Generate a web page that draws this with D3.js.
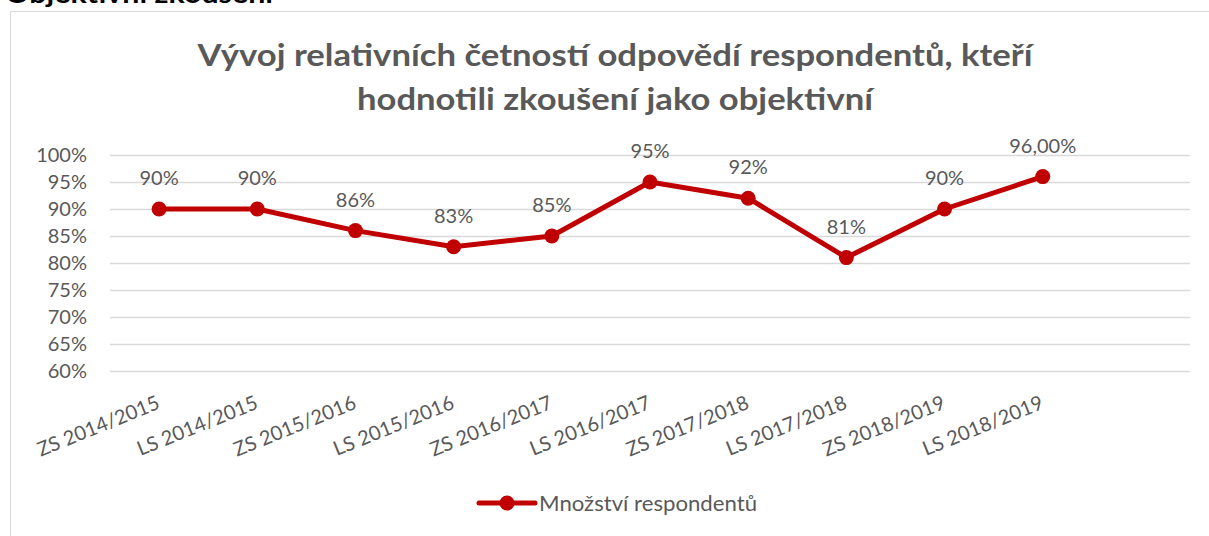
<!DOCTYPE html>
<html><head><meta charset="utf-8">
<script src="https://cdn.jsdelivr.net/npm/d3@7"></script>
<style>body{margin:0;background:#fff}svg{display:block}</style>
</head><body>
<svg id="c" width="1209" height="536"></svg>
<script>
const categories = ["ZS 2014/2015","LS 2014/2015","ZS 2015/2016","LS 2015/2016","ZS 2016/2017","LS 2016/2017","ZS 2017/2018","LS 2017/2018","ZS 2018/2019","LS 2018/2019"];
const values = [90, 90, 86, 83, 85, 95, 92, 81, 90, 96];
const valueLabels = ["90%","90%","86%","83%","85%","95%","92%","81%","90%","96,00%"];
const yTicks = [60,65,70,75,80,85,90,95,100];
const seriesName = "Množství respondentů";
const titleLines = ["Vývoj relativních četností odpovědí respondentů, kteří","hodnotili zkoušení jako objektivní"];
const heading = "Objektivní zkoušení";

(function(){
const svg = d3.select("#c");
const FONT = "Lato, 'Open Sans', sans-serif";
const gray = "#595959";
const red = "#C00000";
const titleWidths = [835, 516];

svg.append("text").attr("x",5).attr("y",2.5).attr("font-family",FONT).attr("font-weight","bold")
  .attr("font-size",26).attr("fill","#000").attr("textLength",268).attr("lengthAdjust","spacingAndGlyphs").text(heading);

svg.append("rect").attr("x",10.5).attr("y",11.5).attr("width",1230).attr("height",560)
  .attr("fill","#fff").attr("stroke","#d9d9d9").attr("stroke-width",1);

svg.append("g").selectAll("text").data(titleLines).join("text")
  .attr("x",615).attr("y",(d,i)=>66+i*44).attr("text-anchor","middle")
  .attr("font-family",FONT).attr("font-weight","bold").attr("font-size",31).attr("fill",gray)
  .attr("textLength",(d,i)=>titleWidths[i]).attr("lengthAdjust","spacingAndGlyphs")
  .text(d=>d);

const pL = 110, pR = 1190, pT = 155, pB = 371;
const step = (pR-pL)/11;
const x = d3.scaleBand().domain(categories).range([pL, pL+step*categories.length]);
const y = d3.scaleLinear().domain([60,100]).range([pB, pT]);

svg.append("g").attr("transform",`translate(${pL},0)`)
  .call(d3.axisLeft(y).tickValues(yTicks).tickSize(-(pR-pL)).tickFormat(d=>d+"%"))
  .call(g=>g.select(".domain").remove())
  .call(g=>g.selectAll(".tick line").attr("stroke","#d9d9d9").attr("stroke-width",1.5))
  .call(g=>g.selectAll(".tick text").attr("x",-23).attr("fill",gray).attr("font-size",20).attr("font-family",FONT));

svg.append("g").attr("transform",`translate(0,${pB})`)
  .call(d3.axisBottom(x).tickSize(0))
  .call(g=>g.select(".domain").remove())
  .call(g=>g.selectAll(".tick text")
    .attr("font-family",FONT).attr("font-size",20).attr("fill",gray)
    .attr("text-anchor","end").attr("y",0).attr("dy",0)
    .attr("transform","translate(2,37) rotate(-22)"));

const cx = d=>x(d)+x.bandwidth()/2;
const line = d3.line().x((d,i)=>cx(categories[i])).y(d=>y(d));
svg.append("path").datum(values).attr("d",line).attr("fill","none")
  .attr("stroke",red).attr("stroke-width",5).attr("stroke-linejoin","round");
svg.append("g").selectAll("circle").data(values).join("circle")
  .attr("cx",(d,i)=>cx(categories[i])).attr("cy",d=>y(d)).attr("r",7.5).attr("fill",red);
svg.append("g").selectAll("text").data(values).join("text")
  .attr("x",(d,i)=>cx(categories[i])).attr("y",d=>y(d)-24).attr("text-anchor","middle")
  .attr("font-family",FONT).attr("font-size",20).attr("fill",gray)
  .text((d,i)=>valueLabels[i]);

const lg = svg.append("g").attr("transform","translate(479,503)");
lg.append("line").attr("x1",0).attr("x2",56).attr("y1",0).attr("y2",0).attr("stroke",red).attr("stroke-width",5).attr("stroke-linecap","round");
lg.append("circle").attr("cx",28).attr("cy",0).attr("r",7.5).attr("fill",red);
lg.append("text").attr("x",60).attr("y",7.5).attr("font-family",FONT).attr("font-size",21).attr("fill",gray)
  .attr("textLength",218).attr("lengthAdjust","spacingAndGlyphs").text(seriesName);
})();
</script>
</body></html>
